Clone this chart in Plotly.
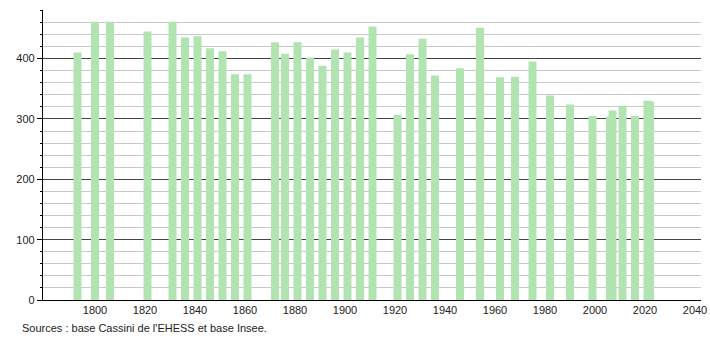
import plotly.graph_objects as go

years = [1793, 1800, 1806, 1821, 1831, 1836, 1841, 1846, 1851, 1856, 1861,
         1872, 1876, 1881, 1886, 1891, 1896, 1901, 1906, 1911,
         1921, 1926, 1931, 1936, 1946, 1954, 1962, 1968, 1975, 1982,
         1990, 1999, 2006, 2007, 2011, 2016, 2021, 2022]
population = [410, 461, 461, 445, 461, 435, 437, 417, 412, 374, 374,
              427, 408, 427, 402, 388, 415, 410, 435, 453,
              307, 407, 433, 372, 384, 451, 369, 370, 395, 339,
              324, 305, 304, 314, 322, 305, 330, 329]
xticks = [1800, 1820, 1840, 1860, 1880, 1900, 1920, 1940, 1960, 1980, 2000, 2020, 2040]
source = "Sources : base Cassini de l'EHESS et base Insee."

fig = go.Figure()
fig.add_trace(go.Bar(
    x=years, y=population, width=3.2,
    marker=dict(color="rgb(178,228,178)", line=dict(width=0)),
    hoverinfo="x+y",
))

fig.update_layout(
    width=710, height=340,
    margin=dict(l=43, r=9, t=10, b=40, autoexpand=False),
    paper_bgcolor="white", plot_bgcolor="white",
    font=dict(family="Liberation Sans, Arial, sans-serif", size=11, color="#222"),
    showlegend=False,
    barmode="overlay",
    xaxis=dict(
        range=[1779.2, 2042.4], tickvals=xticks, ticks="", showgrid=False,
        showline=True, linecolor="#000", linewidth=1.3, zeroline=False,
        tickfont=dict(size=11), automargin=False,
    ),
    yaxis=dict(
        range=[0, 480.5], dtick=100, tick0=0, showgrid=True, gridcolor="#444",
        gridwidth=1, ticks="outside", ticklen=5, tickcolor="#000",
        showline=True, linecolor="#000", linewidth=1.3, zeroline=False,
        automargin=False,
        minor=dict(dtick=20, showgrid=True, gridcolor="#c8c8c8", ticks="outside",
                   ticklen=2, tickcolor="#000"),
        tickfont=dict(size=11),
    ),
    annotations=[dict(
        text=source, x=(20 - 43) / (710 - 43 - 9), y=-(328 - 300) / (340 - 10 - 40),
        xref="paper", yref="paper",
        xanchor="left", yanchor="middle", showarrow=False,
        font=dict(size=11, color="#222"),
    )],
)

fig.write_html("out.html")
